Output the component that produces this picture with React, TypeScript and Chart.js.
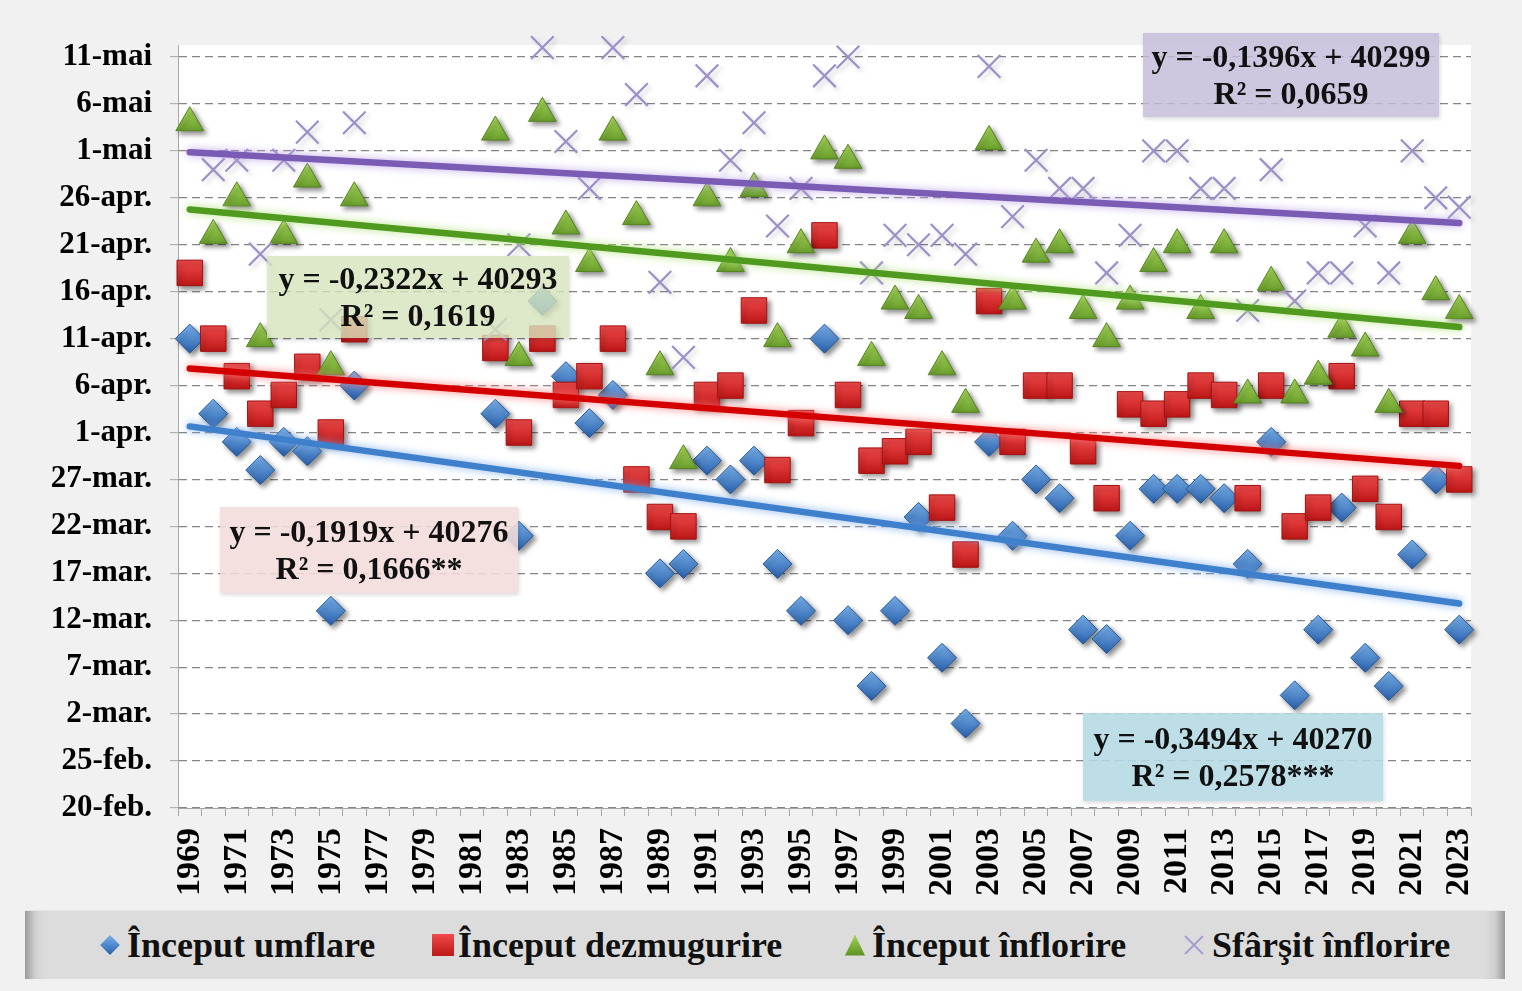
import React, { useEffect, useRef } from 'react';
import { Chart, registerables } from 'chart.js';

Chart.register(...registerables);

// ---------- data ----------
const years: string[] = [
  '1969', '1970', '1971', '1972', '1973', '1974', '1975', '1976', '1977', '1978',
  '1979', '1980', '1981', '1982', '1983', '1984', '1985', '1986', '1987', '1988',
  '1989', '1990', '1991', '1992', '1993', '1994', '1995', '1996', '1997', '1998',
  '1999', '2000', '2001', '2002', '2003', '2004', '2005', '2006', '2007', '2008',
  '2009', '2010', '2011', '2012', '2013', '2014', '2015', '2016', '2017', '2018',
  '2019', '2020', '2021', '2022', '2023',
];

// y tick labels, one every 5 days starting from 20 February (value 0)
const yTickLabels: string[] = [
  '20-feb.', '25-feb.', '2-mar.', '7-mar.', '12-mar.', '17-mar.', '22-mar.', '27-mar.',
  '1-apr.', '6-apr.', '11-apr.', '16-apr.', '21-apr.', '26-apr.', '1-mai', '6-mai', '11-mai',
];

// values = days after 20 February
const umflare: (number | null)[] = [
  50, 42, 39, 36, 39, 38, 21, 45, null, null,
  null, null, null, 42, 29, 54, 46, 41, 44, null,
  25, 26, 37, 35, 37, 26, 21, 50, 20, 13,
  21, 31, 16, 9, 39, 29, 35, 33, 19, 18,
  29, 34, 34, 34, 33, 26, 39, 12, 19, 32,
  16, 13, 27, 35, 19,
];
const dezmugurire: (number | null)[] = [
  57, 50, 46, 42, 44, 47, 40, 51, null, null,
  null, null, null, 49, 40, 50, 44, 46, 50, 35,
  31, 30, 44, 45, 53, 36, 41, 61, 44, 37,
  38, 39, 32, 27, 54, 39, 45, 45, 38, 33,
  43, 42, 43, 45, 44, 33, 45, 30, 32, 46,
  34, 31, 42, 42, 35,
];
const inflorire: (number | null)[] = [
  73, 61, 65, 50, 61, 67, 47, 65, null, null,
  null, null, null, 72, 48, 74, 62, 58, 72, 63,
  47, 37, 65, 58, 66, 50, 60, 70, 69, 48,
  54, 53, 47, 43, 71, 54, 59, 60, 53, 50,
  54, 58, 60, 53, 60, 44, 56, 44, 46, 51,
  49, 43, 61, 55, 53,
];
const sfarsit: (number | null)[] = [
  null, 68, 69, 59, 69, 72, 52, 73, null, null,
  null, null, null, 51, 60, 81, 71, 66, 81, 76,
  56, 48, 78, 69, 73, 62, 66, 78, 80, 57,
  61, 60, 61, 59, 79, 63, 69, 66, 66, 57,
  61, 70, 70, 66, 66, 53, 68, 54, 57, 57,
  62, 57, 70, 65, 64,
];

const seriesNames: string[] = ['Început umflare', 'Început dezmugurire', 'Început înflorire', 'Sfârşit înflorire'];

// trend equations as printed on the chart (y = Excel date serial, x = category number)
const trendSlopes: number[] = [-0.3494, -0.1919, -0.2322, -0.1396];
const trendIntercepts: number[] = [40270, 40276, 40293, 40299];
const trendR2: string[] = ['0,2578***', '0,1666**', '0,1619', '0,0659'];
const serial20Feb = 40229; // Excel serial of the axis origin (20 February)

function trendData(i: number): (number | null)[] {
  const n = years.length;
  return years.map((_, k) =>
    k === 0 || k === n - 1 ? trendSlopes[i] * (k + 1) + trendIntercepts[i] - serial20Feb : null
  );
}

function eqText(i: number): string {
  return `y = ${trendSlopes[i].toFixed(4).replace('.', ',')}x + ${trendIntercepts[i]}`;
}

// ---------- styling helpers ----------
function vGrad(top: string, bottom: string, half: number) {
  return (ctx: any) => {
    if (ctx.type !== 'data' || ctx.raw == null) return bottom;
    const chart = ctx.chart;
    const ys = chart.scales && chart.scales.y;
    if (!ys) return bottom;
    const y = ys.getPixelForValue(ctx.raw);
    if (!isFinite(y)) return bottom;
    const g = chart.ctx.createLinearGradient(0, y - half, 0, y + half);
    g.addColorStop(0, top);
    g.addColorStop(1, bottom);
    return g;
  };
}

const effectsPlugin = {
  id: 'effects',
  beforeDraw(chart: any) {
    const { ctx, chartArea: a } = chart;
    ctx.save();
    ctx.fillStyle = '#f1f1f1';
    ctx.fillRect(0, 0, chart.width, chart.height);
    ctx.fillStyle = '#ffffff';
    ctx.fillRect(a.left, a.top, a.right - a.left, a.bottom - a.top);
    ctx.restore();
  },
  beforeDatasetDraw(chart: any, args: any) {
    const ds: any = chart.data.datasets[args.index];
    const ctx = chart.ctx;
    ctx.save();
    if (ds.glow) {
      ctx.shadowColor = ds.glow;
      ctx.shadowBlur = 9;
      ctx.shadowOffsetX = 0;
      ctx.shadowOffsetY = 0;
    } else if (ds.shadow) {
      ctx.shadowColor = ds.shadow;
      ctx.shadowBlur = 5;
      ctx.shadowOffsetX = 3;
      ctx.shadowOffsetY = 3;
    }
  },
  afterDatasetDraw(chart: any) {
    chart.ctx.restore();
  },
};

const FONT = '"Liberation Serif", "Times New Roman", serif';

const eqBoxes = [
  { i: 3, left: 1143, top: 33, width: 296, height: 84, bg: 'rgba(196,186,216,0.82)' },
  { i: 2, left: 267, top: 256, width: 302, height: 82, bg: 'rgba(212,228,188,0.80)' },
  { i: 1, left: 220, top: 507, width: 298, height: 86, bg: 'rgba(242,220,219,0.88)' },
  { i: 0, left: 1083, top: 713, width: 300, height: 88, bg: 'rgba(180,216,228,0.88)' },
];

export default function App() {
  const canvasRef = useRef<HTMLCanvasElement>(null);

  useEffect(() => {
    const cv = canvasRef.current;
    if (!cv) return;
    const trendColors = ['#3f80cc', '#d40000', '#4f9a1f', '#7b5cb5'];
    const trendGlows = ['rgba(120,170,235,0.9)', 'rgba(255,120,120,0.9)', 'rgba(175,225,120,0.9)', 'rgba(185,160,230,0.9)'];
    const trendSets = [0, 1, 2, 3].map((i) => ({
      label: 'trend ' + seriesNames[i],
      data: trendData(i),
      spanGaps: true,
      showLine: true,
      borderColor: trendColors[i],
      borderWidth: 6.5,
      borderCapStyle: 'round',
      pointRadius: 0,
      pointHoverRadius: 0,
      fill: false,
      order: 0,
      glow: trendGlows[i],
    }));

    const chart = new Chart(cv, {
      type: 'line',
      data: {
        labels: years,
        datasets: [
          ...trendSets,
          {
            label: seriesNames[3],
            data: sfarsit,
            showLine: false,
            clip: false,
            order: 1,
            pointStyle: 'crossRot',
            pointRadius: 16,
            pointHoverRadius: 16,
            pointBorderColor: '#9d90c8',
            pointBorderWidth: 2.2,
            shadow: 'rgba(0,0,0,0.18)',
          },
          {
            label: seriesNames[2],
            data: inflorire,
            showLine: false,
            clip: false,
            order: 2,
            pointStyle: 'triangle',
            pointRadius: 16,
            pointHoverRadius: 16,
            pointBackgroundColor: vGrad('#a3d456', '#5b9122', 14),
            pointBorderColor: '#55851f',
            pointBorderWidth: 1,
            shadow: 'rgba(0,0,0,0.45)',
          },
          {
            label: seriesNames[1],
            data: dezmugurire,
            showLine: false,
            clip: false,
            order: 3,
            pointStyle: 'rect',
            pointRadius: 18,
            pointHoverRadius: 18,
            pointBackgroundColor: vGrad('#f24a4a', '#bd1616', 13),
            pointBorderColor: '#a51111',
            pointBorderWidth: 1,
            shadow: 'rgba(0,0,0,0.45)',
          },
          {
            label: seriesNames[0],
            data: umflare,
            showLine: false,
            clip: false,
            order: 4,
            pointStyle: 'rectRot',
            pointRadius: 14.5,
            pointHoverRadius: 14.5,
            pointBackgroundColor: vGrad('#78b2ec', '#2a60ab', 14),
            pointBorderColor: '#2a5a9a',
            pointBorderWidth: 1,
            shadow: 'rgba(0,0,0,0.45)',
          },
        ] as any,
      },
      options: {
        animation: false,
        responsive: false,
        devicePixelRatio: 1,
        events: [],
        layout: { padding: { top: 45, right: 51, left: 0, bottom: 0 } },
        plugins: { legend: { display: false }, tooltip: { enabled: false } },
        scales: {
          x: {
            type: 'category',
            offset: true,
            grid: {
              offset: true,
              drawOnChartArea: false,
              drawTicks: true,
              tickLength: 8,
              color: '#a6a6a6',
              tickColor: '#a6a6a6',
              lineWidth: 1,
            },
            border: { display: true, color: '#a6a6a6', width: 1 },
            ticks: {
              autoSkip: false,
              minRotation: 90,
              maxRotation: 90,
              padding: 12,
              color: '#000',
              font: { family: FONT, size: 34, weight: 'bold' },
              callback: (_v: any, i: number) => (i % 2 === 0 ? years[i] : ''),
            },
            afterFit: (s: any) => {
              s.height = 183;
            },
          },
          y: {
            type: 'linear',
            min: 0,
            max: 81.28,
            grid: {
              color: '#858585',
              lineWidth: 1.3,
              drawTicks: true,
              tickLength: 8,
              tickColor: '#a6a6a6',
              tickWidth: 1,
              tickBorderDash: [],
            },
            border: { display: true, color: '#a6a6a6', width: 1, dash: [8, 5] },
            ticks: {
              stepSize: 5,
              includeBounds: false,
              padding: 18,
              color: '#000',
              font: { family: FONT, size: 31, weight: 'bold' },
              callback: (v: any) => {
                const k = Math.round(Number(v) / 5);
                return Math.abs(Number(v) - k * 5) < 1e-6 ? yTickLabels[k] ?? '' : '';
              },
            },
            afterFit: (s: any) => {
              s.width = 178;
            },
          },
        },
      } as any,
      plugins: [effectsPlugin],
    });
    return () => chart.destroy();
  }, []);

  const legendItems = [
    { marker: 'diamond', x: 100, textX: 127 },
    { marker: 'square', x: 432, textX: 458 },
    { marker: 'triangle', x: 845, textX: 872 },
    { marker: 'cross', x: 1183, textX: 1212 },
  ];

  const renderMarker = (m: string) => {
    if (m === 'diamond')
      return (
        <div
          style={{
            width: 14,
            height: 14,
            transform: 'rotate(45deg)',
            background: 'linear-gradient(135deg, #78b2ec, #2a60ab)',
            margin: '3px 3px',
          }}
        />
      );
    if (m === 'square')
      return <div style={{ width: 22, height: 22, background: 'linear-gradient(#f24a4a, #bd1616)' }} />;
    if (m === 'triangle')
      return (
        <div
          style={{
            width: 20,
            height: 21,
            background: 'linear-gradient(#a3d456, #5b9122)',
            clipPath: 'polygon(50% 0, 100% 100%, 0 100%)',
          }}
        />
      );
    return (
      <svg width={22} height={22} viewBox="0 0 22 22">
        <line x1={2} y1={2} x2={20} y2={20} stroke="#a89cd0" strokeWidth={2} />
        <line x1={20} y1={2} x2={2} y2={20} stroke="#a89cd0" strokeWidth={2} />
      </svg>
    );
  };

  return (
    <div
      style={{
        position: 'absolute',
        left: 0,
        top: 0,
        width: 1522,
        height: 991,
        background: '#f1f1f1',
        overflow: 'hidden',
        fontFamily: FONT,
      }}
    >
      <canvas
        ref={canvasRef}
        width={1522}
        height={991}
        style={{ position: 'absolute', left: 0, top: 0, width: 1522, height: 991 }}
      />
      {eqBoxes.map((b) => (
        <div
          key={b.i}
          style={{
            position: 'absolute',
            left: b.left,
            top: b.top,
            width: b.width,
            height: b.height,
            background: b.bg,
            boxShadow: '1px 2px 4px rgba(0,0,0,0.15)',
            display: 'flex',
            flexDirection: 'column',
            alignItems: 'center',
            justifyContent: 'center',
            fontWeight: 'bold',
            fontSize: 32,
            lineHeight: '37px',
            color: '#111',
            whiteSpace: 'nowrap',
          }}
        >
          <div>{eqText(b.i)}</div>
          <div>R² = {trendR2[b.i]}</div>
        </div>
      ))}
      <div
        style={{
          position: 'absolute',
          left: 25,
          top: 910,
          width: 1480,
          height: 68,
          background:
            'linear-gradient(to right, #9a9a9a 0px, #cfcfcf 10px, #dcdcdc 20px, #dcdcdc calc(100% - 20px), #cfcfcf calc(100% - 10px), #9a9a9a 100%)',
          borderTop: '1px solid #e6e6e6',
        }}
      >
        {legendItems.map((it, k) => (
          <React.Fragment key={k}>
            <div
              style={{
                position: 'absolute',
                left: it.x - 25,
                top: 0,
                height: 68,
                display: 'flex',
                alignItems: 'center',
              }}
            >
              {renderMarker(it.marker)}
            </div>
            <div
              style={{
                position: 'absolute',
                left: it.textX - 25,
                top: 0,
                height: 68,
                display: 'flex',
                alignItems: 'center',
                fontWeight: 'bold',
                fontSize: 36,
                color: '#111',
                whiteSpace: 'nowrap',
              }}
            >
              {seriesNames[k]}
            </div>
          </React.Fragment>
        ))}
      </div>
    </div>
  );
}
